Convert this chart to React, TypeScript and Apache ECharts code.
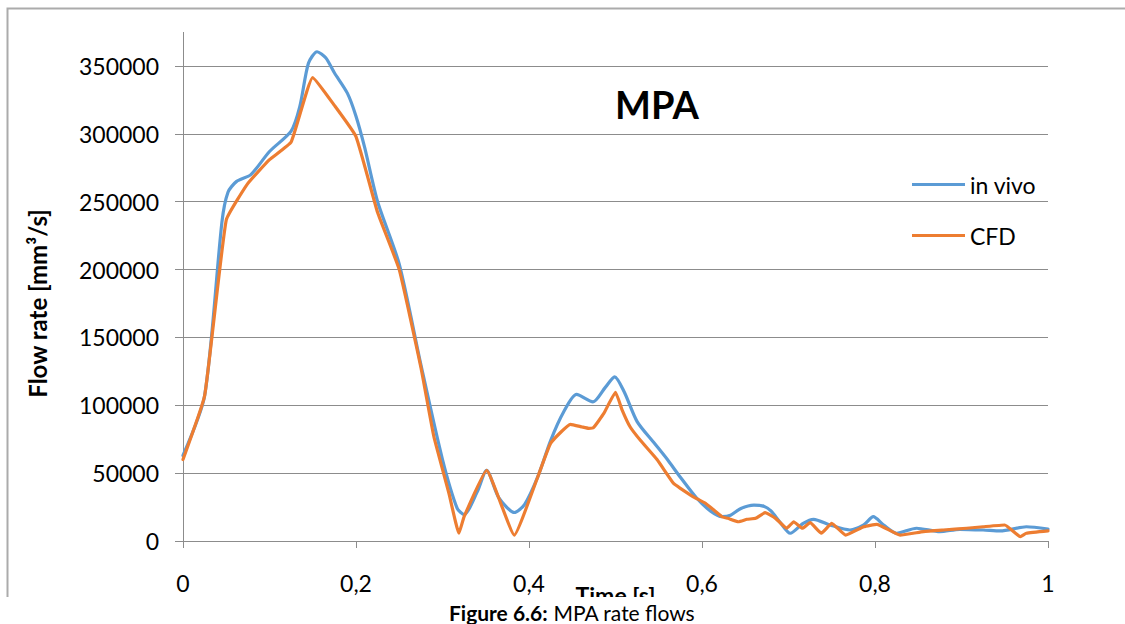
import React, { useEffect, useRef } from "react";
import * as echarts from "echarts";

// ---- data ----
const inVivoTime = [
  0, 0.025, 0.045, 0.052, 0.062, 0.0785, 0.1, 0.125, 0.135, 0.145, 0.155, 0.165, 0.175, 0.19, 0.2,
  0.21, 0.225, 0.25, 0.275, 0.3, 0.317, 0.325, 0.34, 0.351, 0.365, 0.383, 0.395, 0.41, 0.425, 0.44,
  0.455, 0.474, 0.488, 0.499, 0.51, 0.525, 0.545, 0.56, 0.575, 0.594, 0.61, 0.623, 0.633, 0.645,
  0.66, 0.672, 0.68, 0.69, 0.702, 0.717, 0.729, 0.748, 0.771, 0.787, 0.798, 0.81, 0.825, 0.848,
  0.875, 0.898, 0.925, 0.945, 0.975, 1.0,
];
const inVivoFlow = [
  63000, 107000, 235000, 257000, 265000, 270000, 287000, 302000, 320000, 352000, 360500, 356000,
  345000, 330000, 313000, 290000, 250000, 204000, 130000, 60000, 24000, 19500, 36000, 52000, 32000,
  21000, 27000, 47000, 74000, 95000, 108000, 102500, 113000, 121000, 110000, 88000, 72000, 60000,
  47000, 31500, 22000, 18000, 19000, 24000, 26500, 25500, 22000, 14000, 5700, 13000, 16000, 11800,
  8100, 11800, 17900, 11800, 5700, 9400, 6900, 8600, 8100, 7400, 10500, 8800,
];
const cfdTime = [
  0, 0.025, 0.05, 0.075, 0.1, 0.125, 0.15, 0.175, 0.2, 0.225, 0.25, 0.275, 0.29, 0.3075, 0.319,
  0.325, 0.351, 0.383, 0.41, 0.425, 0.448, 0.4615, 0.469, 0.4745, 0.4865, 0.5, 0.5077, 0.517,
  0.529, 0.548, 0.567, 0.575, 0.59, 0.604, 0.623, 0.63, 0.642, 0.652, 0.662, 0.673, 0.685, 0.698,
  0.706, 0.716, 0.725, 0.738, 0.75, 0.766, 0.787, 0.802, 0.829, 0.856, 0.879, 0.906, 0.925, 0.95,
  0.968, 0.975, 1.0,
];
const cfdFlow = [
  60000, 107000, 236500, 263500, 281000, 294000, 341500, 321000, 298000, 242000, 200000, 128000,
  77000, 35000, 5700, 18000, 52000, 4400, 47000, 72000, 86000, 84000, 83000, 83500, 94000, 109600,
  96500, 84000, 74000, 60000, 42500, 38800, 32600, 27800, 17900, 16700, 14200, 16000, 16700, 20900,
  16700, 9400, 14200, 9400, 13500, 5700, 13000, 4400, 10500, 12300, 4400, 6900, 8100, 9400, 10500,
  11800, 3200, 5700, 7400,
];
const seriesNames = ["in vivo", "CFD"];
const xTicks = [0, 0.2, 0.4, 0.6, 0.8, 1];

const FONT = "Lato, 'Noto Sans', sans-serif";
const GRID_COLOR = "#8c8c8c";

export default function App() {
  const ref = useRef<HTMLDivElement>(null);

  useEffect(() => {
    if (!ref.current) return;
    const chart = echarts.init(ref.current, null, { renderer: "svg" });
    const pair = (t: number[], v: number[]) => t.map((x, i) => [x, v[i]]);

    chart.setOption({
      animation: false,
      backgroundColor: "#ffffff",
      textStyle: { fontFamily: FONT },
      grid: { left: 183, right: 77, top: 66, bottom: 83 },
      legend: {
        data: seriesNames,
        orient: "vertical",
        left: 907,
        top: 168,
        icon: "rect",
        itemWidth: 53,
        itemHeight: 3,
        itemGap: 28,
        textStyle: { fontFamily: FONT, fontSize: 23, color: "#000" },
      },
      xAxis: {
        type: "value",
        min: xTicks[0],
        max: xTicks[xTicks.length - 1],
        interval: 0.2,
        name: "Time [s]",
        nameLocation: "middle",
        nameGap: 42,
        nameMoveOverlap: false,
        nameTextStyle: {
          fontFamily: FONT,
          fontSize: 23,
          fontWeight: "bold",
          color: "#000",
          verticalAlign: "top",
        },
        axisLine: { show: true, lineStyle: { color: GRID_COLOR, width: 1 } },
        axisTick: { show: true, length: 7, lineStyle: { color: GRID_COLOR } },
        splitLine: { show: false },
        axisLabel: {
          fontFamily: FONT,
          fontSize: 23,
          color: "#000",
          margin: 30,
          formatter: (v: number) => String(+v.toFixed(1)).replace(".", ","),
        },
      },
      yAxis: {
        type: "value",
        min: 0,
        max: 350000,
        interval: 50000,
        name: "Flow rate [mm³/s]",
        nameLocation: "middle",
        nameGap: 134,
        nameMoveOverlap: false,
        nameTextStyle: { fontFamily: FONT, fontSize: 24, fontWeight: "bold", color: "#000" },
        axisLine: { show: true, lineStyle: { color: GRID_COLOR, width: 1 } },
        axisTick: { show: true, length: 8, lineStyle: { color: GRID_COLOR } },
        splitLine: { show: true, lineStyle: { color: GRID_COLOR, width: 1 } },
        axisLabel: {
          fontFamily: FONT,
          fontSize: 23,
          color: "#000",
          margin: 24,
          formatter: (v: number) => String(v),
        },
      },
      series: [
        {
          name: seriesNames[0],
          type: "line",
          data: pair(inVivoTime, inVivoFlow),
          symbol: "none",
          smooth: 0.25,
          clip: false,
          lineStyle: { color: "#5B9BD5", width: 3.2, cap: "round", join: "round" },
          itemStyle: { color: "#5B9BD5" },
        },
        {
          name: seriesNames[1],
          type: "line",
          data: pair(cfdTime, cfdFlow),
          symbol: "none",
          smooth: 0.12,
          clip: false,
          lineStyle: { color: "#ED7D31", width: 3.2, cap: "round", join: "round" },
          itemStyle: { color: "#ED7D31" },
        },
      ],
      graphic: [
        {
          type: "line",
          shape: { x1: 183.5, y1: 32, x2: 183.5, y2: 66 },
          style: { stroke: GRID_COLOR, lineWidth: 1 },
          z: 10,
        },
        {
          type: "polyline",
          shape: { points: [[7.5, 597], [7.5, 8.5], [1125, 8.5]] },
          style: { stroke: "#ababab", lineWidth: 2, fill: null },
          z: 10,
        },
        {
          type: "text",
          x: 657,
          y: 104,
          style: {
            text: "MPA",
            font: `bold 38px ${FONT}`,
            fill: "#000",
            align: "center",
            verticalAlign: "middle",
          },
          z: 10,
        },
        {
          type: "rect",
          shape: { x: 0, y: 597, width: 1125, height: 27 },
          style: { fill: "#ffffff" },
          z: 100,
        },
        {
          type: "text",
          x: 572,
          y: 612,
          style: {
            text: "{b|Figure 6.6:} MPA rate flows",
            rich: {
              b: { fontFamily: FONT, fontSize: 21, fontWeight: "bold", fill: "#000" },
            },
            fontFamily: FONT,
            fontSize: 21,
            fill: "#000",
            align: "center",
            verticalAlign: "middle",
          },
          z: 101,
        },
      ],
    });
    return () => chart.dispose();
  }, []);

  return (
    <div
      ref={ref}
      style={{ position: "fixed", left: 0, top: 0, width: 1125, height: 624, background: "#fff" }}
    />
  );
}
